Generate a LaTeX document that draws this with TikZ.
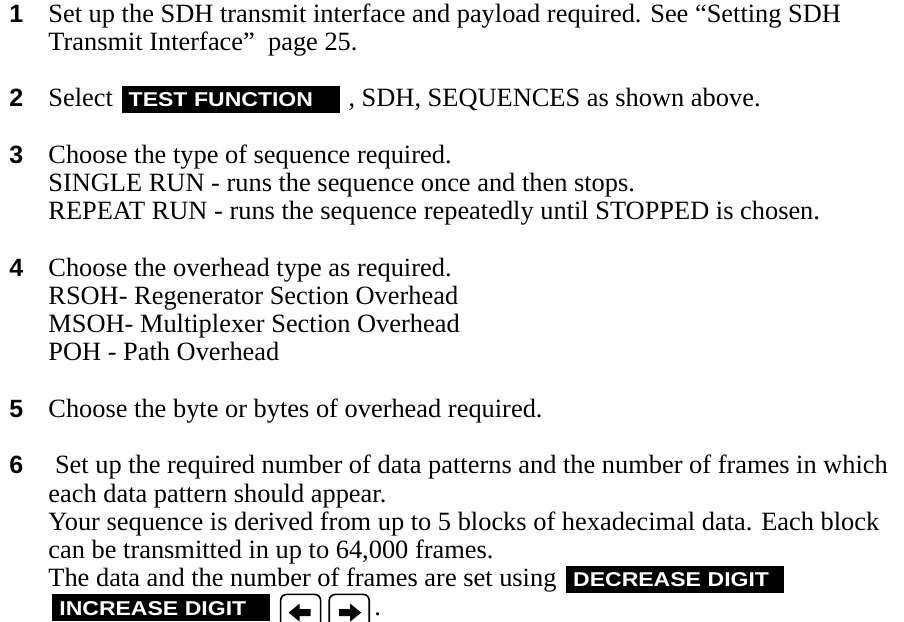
\documentclass[tikz,border=0pt]{standalone}
\usepackage{fontspec}
\setmainfont{Liberation Serif}
\newfontfamily\numfont{Liberation Sans}
\newfontfamily\keyfont{Liberation Sans}[FakeStretch=1.15]
\usetikzlibrary{positioning}
\tikzset{
  bodytext/.style={anchor=base west, inner sep=0pt, font=\fontsize{13.2pt}{13.9pt}\selectfont},
  stepnum/.style={anchor=base west, inner sep=0pt, font=\numfont\bfseries\fontsize{12.5pt}{14pt}\selectfont},
  keycap/.style={anchor=base west, fill=black, text=white, inner xsep=3.5pt, inner ysep=3.2pt,
    text height=7.3pt, text depth=0pt, text width=102pt, align=left,
    font=\keyfont\bfseries\fontsize{10pt}{12pt}\selectfont},
  arrowkey/.style={draw, line width=0.8pt, rounded corners=3pt, minimum width=20pt,
    minimum height=22pt, inner sep=0pt, anchor=north west}
}
\begin{document}
\begin{tikzpicture}[x=0.5pt,y=-0.5pt]
\useasboundingbox (0,0) rectangle (904,621);
\clip (0,0) rectangle (904,621);
% step 1
\node[stepnum] (n1) at (9,22) {1};
\node[bodytext] (s1a) at (48,22) {Set up the SDH transmit interface and payload required. See “Setting SDH};
\node[bodytext] (s1b) at (48,50.2) {Transmit Interface”\ \ page 25.};
% step 2
\node[stepnum] (n2) at (9,106.7) {2};
\node[bodytext] (s2a) at (48,106.7) {Select};
\node[keycap] (tf) at ([xshift=4pt]s2a.base east) {TEST FUNCTION};
\node[bodytext] (s2b) at ([xshift=4pt]s2a.base east -| tf.east) {, SDH, SEQUENCES as shown above.};
% step 3
\node[stepnum] (n3) at (9,163.2) {3};
\node[bodytext] (s3a) at (48,163.2) {Choose the type of sequence required.};
\node[bodytext] (s3b) at (48,191.4) {SINGLE RUN - runs the sequence once and then stops.};
\node[bodytext] (s3c) at (48,219.7) {REPEAT RUN - runs the sequence repeatedly until STOPPED is chosen.};
% step 4
\node[stepnum] (n4) at (9,276.2) {4};
\node[bodytext] (s4a) at (48,276.2) {Choose the overhead type as required.};
\node[bodytext] (s4b) at (48,304.4) {RSOH- Regenerator Section Overhead};
\node[bodytext] (s4c) at (48,332.6) {MSOH- Multiplexer Section Overhead};
\node[bodytext] (s4d) at (48,360.9) {POH - Path Overhead};
% step 5
\node[stepnum] (n5) at (9,417.4) {5};
\node[bodytext] (s5a) at (48,417.4) {Choose the byte or bytes of overhead required.};
% step 6
\node[stepnum] (n6) at (9,473.8) {6};
\node[bodytext] (s6a) at (48,473.8) {\ Set up the required number of data patterns and the number of frames in which};
\node[bodytext] (s6b) at (48,502.1) {each data pattern should appear.};
\node[bodytext] (s6c) at (48,530.3) {Your sequence is derived from up to 5 blocks of hexadecimal data. Each block};
\node[bodytext] (s6d) at (48,558.6) {can be transmitted in up to 64,000 frames.};
\node[bodytext] (s6e) at (48,586.8) {The data and the number of frames are set using};
\node[keycap] (dec) at ([xshift=4.5pt]s6e.base east) {DECREASE DIGIT};
\coordinate (last) at (52,615);
\node[keycap] (inc) at (last) {INCREASE DIGIT};
% arrow keys
\node[arrowkey] (lk) at ([xshift=4.5pt]inc.north east) {};
\node[arrowkey, right=3.5pt of lk] (rk) {};
\fill[shift={(lk.north)}] (-12,19) -- (-1,10) -- (-1,15.5) -- (10,15.5) -- (10,22.5) -- (-1,22.5) -- (-1,28) -- cycle;
\fill[shift={(rk.north)}] (12,19) -- (1,10) -- (1,15.5) -- (-10,15.5) -- (-10,22.5) -- (1,22.5) -- (1,28) -- cycle;
\node[bodytext] (dot) at ([xshift=2pt]rk.east |- last) {.};
\end{tikzpicture}
\end{document}
